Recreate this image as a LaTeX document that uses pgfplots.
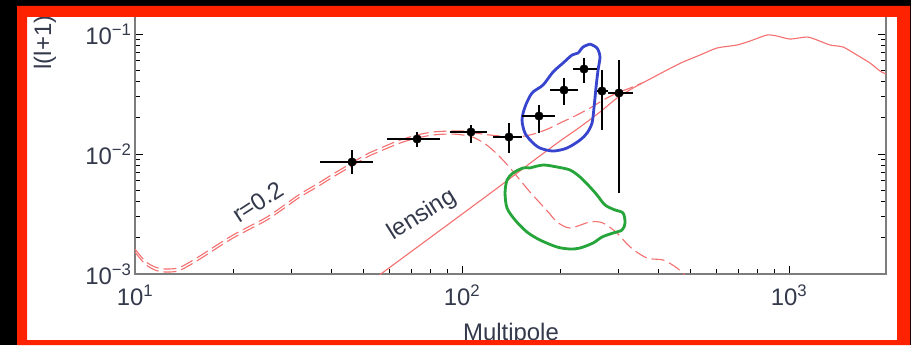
\documentclass[border=0pt]{standalone}
\usepackage{fontspec}
\setmainfont{Liberation Sans}
\usepackage{pgfplots}
\pgfplotsset{compat=1.18}

\definecolor{frameRed}{RGB}{255,34,0}
\definecolor{labelInk}{RGB}{52,58,76}
\definecolor{modelRed}{RGB}{244,112,112}
\definecolor{contourBlue}{RGB}{55,68,205}
\definecolor{contourGreen}{RGB}{38,165,58}
\definecolor{axisGray}{RGB}{125,125,125}

% band powers: centre, bin half-widths, errors
\pgfplotstableread{
l     c        xm    xp    ym       yp
46.1  0.00858  9.3   7.3   0.00177  0.00222
72.9  0.01334  13.9  12.7  0.00190  0.00192
106.5 0.01526  14.6  12.7  0.00291  0.00219
139.2 0.01386  14.8  13.4  0.00367  0.00427
172.0 0.02073  19.4  20.5  0.00577  0.00488
205.1 0.03415  19.3  21.2  0.00854  0.00884
236.1 0.05109  17.6  22.7  0.01203  0.01201
268.0 0.03350  9.2   11.5  0.01765  0.01660
302.0 0.03224  22.0  31.4  0.02751  0.02850
}\bandpowers

\begin{document}
\begin{tikzpicture}[x=1bp,y=1bp]
\path[use as bounding box] (0,0) rectangle (911,345);
\fill[black] (0,0) rectangle (911,345);
\fill[white] (27,5) rectangle (897,328);

\begin{axis}[
  at={(135bp,71bp)}, anchor=south west,
  scale only axis, width=751bp, height=262bp,
  xmode=log, ymode=log,
  xmin=10, xmax=1980, ymin=1e-3, ymax=0.1526,
  axis line style={axisGray, line width=1.6bp},
  tick align=inside,
  tick style={black, line width=0.9bp},
  major tick length=8bp, minor tick length=5bp,
  xtick={10,100,1000},
  xticklabels={10\textsuperscript{1},10\textsuperscript{2},10\textsuperscript{3}},
  minor xtick={20,30,40,50,60,70,80,90,200,300,400,500,600,700,800,900},
  ytick={0.001,0.01,0.1},
  yticklabels={10\textsuperscript{−3},10\textsuperscript{−2},10\textsuperscript{−1}},
  minor ytick={0.002,0.003,0.004,0.005,0.006,0.007,0.008,0.009,0.02,0.03,0.04,0.05,0.06,0.07,0.08,0.09},
  xtick pos=bottom, ytick pos=both,
  ticklabel style={font=\fontsize{24}{28}\selectfont, text=labelInk},
  xticklabel style={yshift=-7bp},
  clip=true,
]

% tensor B-modes, r = 0.2
\addplot[modelRed, line width=1.1bp, dash pattern=on 13bp off 5bp, smooth, tension=0.5] coordinates {
(10,1.525e-3) (10.73,1.212e-3) (11.51,1.080e-3) (12.35,1.039e-3) (13.54,1.059e-3)
(14.73,1.189e-3) (15.80,1.334e-3) (17.81,1.647e-3) (19.94,1.995e-3) (22.47,2.371e-3)
(25.33,2.818e-3) (28.36,3.481e-3) (31.96,4.382e-3) (36.03,5.309e-3) (40.32,6.433e-3)
(45.45,7.795e-3) (51.23,9.441e-3) (57.33,1.080e-2) (64.63,1.235e-2) (72.86,1.359e-2)
(81.5,1.440e-2) (91.9,1.468e-2) (100.7,1.440e-2) (109.6,1.359e-2) (120.1,1.166e-2)
(130.7,9.441e-3) (140.3,7.644e-3) (150.4,6.070e-3) (161.4,4.823e-3) (173.2,3.906e-3)
(185.8,3.162e-3) (195.2,2.714e-3) (213.9,2.417e-3) (246.2,2.714e-3) (269.9,2.661e-3)
(297.9,2.196e-3) (326.6,1.679e-3) (367.9,1.359e-3) (411.9,1.308e-3) (454.4,1.122e-3)
(498.0,0.891e-3)
};

% tensor plus lensing
\addplot[modelRed, line width=1.1bp, dash pattern=on 13bp off 5bp, smooth, tension=0.5] coordinates {
(10,1.616e-3) (10.73,1.283e-3) (11.51,1.144e-3) (12.35,1.101e-3) (13.54,1.122e-3)
(14.73,1.259e-3) (15.80,1.413e-3) (17.81,1.745e-3) (19.94,2.113e-3) (22.47,2.512e-3)
(25.33,2.985e-3) (28.36,3.687e-3) (31.96,4.642e-3) (36.03,5.623e-3) (40.32,6.813e-3)
(45.45,8.254e-3) (51.23,1.0e-2) (57.33,1.144e-2) (64.63,1.308e-2) (72.86,1.440e-2)
(81.5,1.526e-2) (91.9,1.555e-2) (100.7,1.555e-2) (109.6,1.496e-2) (121.8,1.440e-2)
(130.7,1.413e-2) (143.2,1.386e-2) (155.8,1.413e-2) (169.6,1.496e-2) (185.8,1.647e-2)
(199.4,1.813e-2) (221.5,2.073e-2) (246.2,2.416e-2) (273.8,2.873e-2) (297.9,3.224e-2)
(326.6,3.548e-2) (355.2,3.906e-2)
};

% lensing B-modes
\addplot[modelRed, line width=1.1bp, smooth, tension=0.4] coordinates {
(52.3,0.858e-3) (91.9,2.661e-3) (130.7,5.412e-3) (164.9,8.745e-3) (199.4,1.283e-2)
(229.6,1.679e-2) (264.2,2.239e-2) (297.9,2.929e-2) (333.4,3.548e-2) (375.8,4.217e-2)
(423.6,5.012e-2) (474.1,5.846e-2) (534.4,6.683e-2) (602.3,7.644e-2) (693.4,8.098e-2)
(759.9,8.745e-2) (856.6,9.81e-2) (919.0,9.623e-2) (1007,9.085e-2) (1135,9.441e-2)
(1218,8.913e-2) (1335,8.098e-2) (1463,7.795e-2) (1614,6.683e-2) (1769,5.733e-2)
(1898,4.917e-2) (1980,4.642e-2)
};

% blue outline
\addplot[contourBlue, line width=2.8bp, smooth, tension=0.5] coordinates {
(246.2,0.08254) (258.8,0.07644) (264.2,0.06433) (260.6,0.05012) (257.0,0.03617)
(253.4,0.02464) (249.8,0.01813) (241.2,0.01496) (229.6,0.01308) (209.5,0.01122)
(189.8,0.01059) (173.2,0.01122) (163.7,0.01259) (155.8,0.01496) (152.6,0.0192)
(155.8,0.02464) (163.7,0.03224) (176.9,0.03758) (189.8,0.04823) (203.7,0.05733)
(217.0,0.06683) (226.3,0.06945) (234.4,0.07795) (246.2,0.08254)
};

% green outline
\addplot[contourGreen, line width=2.8bp, smooth, tension=0.5] coordinates {
(161.4,7.644e-3) (176.9,8.098e-3) (195.2,7.795e-3) (213.9,7.356e-3) (229.6,6.433e-3)
(246.2,5.309e-3) (258.8,4.553e-3) (273.8,3.758e-3) (293.8,3.415e-3) (310.8,3.224e-3)
(315.2,2.661e-3) (308.6,2.326e-3) (289.6,2.196e-3) (268.0,2.034e-3) (251.6,1.813e-3)
(229.6,1.647e-3) (213.9,1.616e-3) (195.2,1.679e-3) (173.2,1.920e-3) (158.0,2.239e-3)
(145.3,2.818e-3) (137.3,3.548e-3) (135.4,4.732e-3) (137.3,6.070e-3) (143.2,6.945e-3)
(153.7,7.644e-3) (161.4,7.644e-3)
};

% band powers with bin widths and errors
\addplot[black, only marks, mark=*, mark size=4.3bp,
  error bars/.cd, x dir=both, x explicit, y dir=both, y explicit,
  error mark=none, error bar style={black, line width=1.5bp}]
  table[x=l, y=c, x error plus=xp, x error minus=xm, y error plus=yp, y error minus=ym] {\bandpowers};

\node[rotate=33, text=labelInk, font=\fontsize{24}{28}\selectfont] at (axis cs:23.77,0.00398) {r=0.2};
\node[rotate=32, text=labelInk, font=\fontsize{24}{28}\selectfont] at (axis cs:75.5,0.0031) {lensing};
\end{axis}

\node[rotate=90, anchor=base west, text=labelInk, font=\fontsize{24}{28}\selectfont] at (51,272) {l(l+1)};
\node[anchor=base, text=labelInk, font=\fontsize{24}{28}\selectfont] at (511,5) {Multipole};

% frame
\fill[frameRed, even odd rule] (17,0) rectangle (910,339) (27,5) rectangle (897,328);
\end{tikzpicture}
\end{document}
